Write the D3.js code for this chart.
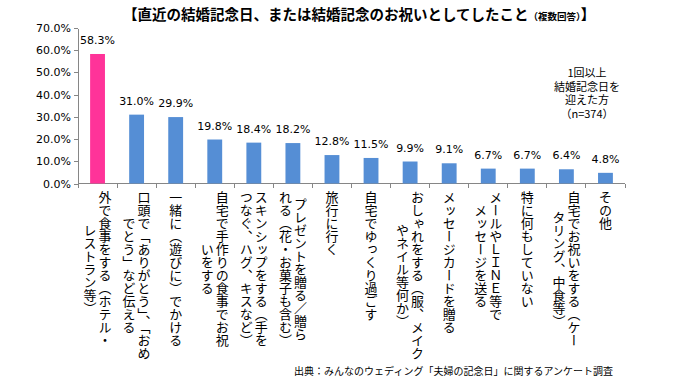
<!DOCTYPE html>
<html lang="ja">
<head>
<meta charset="utf-8">
<style>
  body { margin: 0; background: #fff; }
  svg { display: block; background: #fff; }
  .axis path, .axis line { stroke: #868686; shape-rendering: crispEdges; }
  .axis text { font-family: "DejaVu Sans", sans-serif; font-size: 11px; fill: #000; }
  .val { font-family: "DejaVu Sans", sans-serif; font-size: 11px; fill: #000; }
  .catbox { text-align: center; }
  .cat {
    display: inline-block;
    vertical-align: top;
    writing-mode: vertical-rl;
    text-align: center;
    font-family: "Noto Sans CJK JP", sans-serif;
    font-size: 13px;
    line-height: 15px;
    color: #000;
  }
</style>
<script src="https://cdn.jsdelivr.net/npm/d3@7"></script>
</head>
<body>
<script>
var width = 675, height = 385;

// data
var categories = [
  ["外で食事をする（ホテル・", "レストラン等）"],
  ["口頭で「ありがとう」、「おめ", "でとう」など伝える"],
  ["一緒に（遊びに）でかける"],
  ["自宅で手作りの食事でお祝", "いをする"],
  ["スキンシップをする（手を", "つなぐ、ハグ、キスなど）"],
  ["プレゼントを贈る／贈ら", "れる（花・お菓子も含む）"],
  ["旅行に行く"],
  ["自宅でゆっくり過ごす"],
  ["おしゃれをする（服、メイク", "やネイル等何か）"],
  ["メッセージカードを贈る"],
  ["メールやＬＩＮＥ等で", "メッセージを送る"],
  ["特に何もしていない"],
  ["自宅でお祝いをする（ケー", "タリング、中食等）"],
  ["その他"]
];
var values = [58.3, 31.0, 29.9, 19.8, 18.4, 18.2, 12.8, 11.5, 9.9, 9.1, 6.7, 6.7, 6.4, 4.8];
var yTicks = [0, 10, 20, 30, 40, 50, 60, 70];
var note = ["1回以上", "結婚記念日を", "迎えた方", "（n=374）"];

var svg = d3.select("body").append("svg")
  .attr("width", width)
  .attr("height", height);

var x = d3.scaleBand()
  .domain(d3.range(values.length))
  .range([78, 625])
  .paddingInner(0.62)
  .paddingOuter(0.31);

var y = d3.scaleLinear()
  .domain([0, 70])
  .range([183.5, 28]);

// title
var title = svg.append("text")
  .attr("x", 123)
  .attr("y", 20)
  .style("font-family", "Noto Sans CJK JP")
  .style("font-weight", "bold")
  .style("font-size", "14.5px");
title.append("tspan").text("【直近の結婚記念日、または結婚記念のお祝いとしてしたこと");
title.append("tspan").style("font-size", "9.5px").text("（複数回答）");
title.append("tspan").text("】");

// y axis
svg.append("g")
  .attr("class", "axis")
  .attr("transform", "translate(78,0)")
  .call(d3.axisLeft(y).tickValues(yTicks).tickSize(4).tickSizeOuter(0)
    .tickFormat(function(d) { return d.toFixed(1) + "%"; }));

// x axis line and ticks between categories
var xg = svg.append("g").attr("class", "axis");
xg.append("line")
  .attr("x1", 78).attr("x2", 625)
  .attr("y1", y(0)).attr("y2", y(0));
var step = x.step();
xg.selectAll(".xt")
  .data(d3.range(values.length + 1))
  .enter().append("line")
  .attr("x1", function(i) { return 78 + i * step; })
  .attr("x2", function(i) { return 78 + i * step; })
  .attr("y1", y(0)).attr("y2", y(0) + 4);

// bars
svg.selectAll(".bar")
  .data(values)
  .enter().append("rect")
  .attr("x", function(d, i) { return x(i); })
  .attr("y", function(d) { return y(d); })
  .attr("width", x.bandwidth())
  .attr("height", function(d) { return y(0) - y(d); })
  .attr("fill", function(d, i) { return i === 0 ? "#FF3399" : "#558ED5"; });

// value labels
svg.selectAll(".val")
  .data(values)
  .enter().append("text")
  .attr("class", "val")
  .attr("x", function(d, i) { return x(i) + x.bandwidth() / 2; })
  .attr("y", function(d) { return y(d) - 10; })
  .attr("text-anchor", "middle")
  .text(function(d) { return d.toFixed(1) + "%"; });

// vertical category labels (html, so the vertical glyph forms are right)
var fo = svg.selectAll(".fo")
  .data(categories)
  .enter().append("foreignObject")
  .attr("x", function(d, i) { return x(i) + x.bandwidth() / 2 - step / 2; })
  .attr("y", 191)
  .attr("width", step)
  .attr("height", 180);
fo.append("xhtml:div")
  .attr("class", "catbox")
  .append("xhtml:div")
  .attr("class", "cat")
  .html(function(d) { return d.join("<br>"); });

// note, one text per line
svg.selectAll(".note")
  .data(note)
  .enter().append("text")
  .attr("x", 587)
  .attr("y", function(d, i) { return 77 + i * 13.5; })
  .attr("text-anchor", "middle")
  .style("font-family", "Noto Sans CJK JP")
  .style("font-size", "11px")
  .text(function(d) { return d; });

// source
svg.append("text")
  .attr("x", 613)
  .attr("y", 375)
  .attr("text-anchor", "end")
  .style("font-family", "Noto Sans CJK JP")
  .style("font-size", "10px")
  .text("出典：みんなのウェディング「夫婦の記念日」に関するアンケート調査");
</script>
</body>
</html>
